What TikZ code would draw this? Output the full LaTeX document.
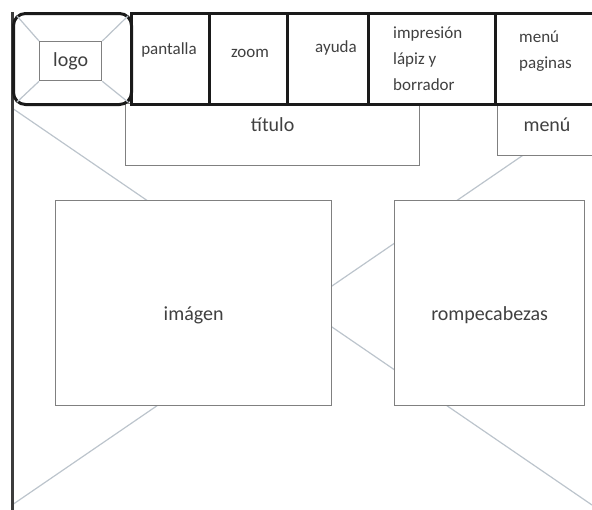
\documentclass[tikz,border=0pt]{standalone}
\usepackage{fontspec}
\setmainfont{Carlito}
\usetikzlibrary{calc}
\definecolor{ink}{HTML}{1A1A1A}
\definecolor{framegray}{HTML}{3C3C3C}
\definecolor{boxgray}{HTML}{808080}
\definecolor{diaggray}{HTML}{BCC4CC}
\definecolor{txt}{HTML}{404040}
\begin{document}
\begin{tikzpicture}[x=1pt,y=-1pt,
  bar/.style={draw=ink, line width=3pt},
  cell/.style={draw=ink, line width=3pt, rectangle, inner sep=0pt, anchor=north west, minimum height=91pt},
  box/.style={draw=boxgray, line width=1.3pt, fill=white, rectangle, inner sep=0pt, anchor=north west},
  diag/.style={draw=diaggray, line width=1.2pt},
  lbl/.style={text=txt, font=\fontsize{20}{24}\selectfont, inner sep=0pt},
  small/.style={text=txt, font=\fontsize{17}{26}\selectfont, inner sep=0pt, align=left}]
\useasboundingbox (0,0) rectangle (592,509);
% background X
\coordinate (xtl) at (12,108);
\coordinate (xbr) at (592,505);
\coordinate (xbl) at (12,505);
\coordinate (xtr) at (592,108);
\draw[diag] (xtl) -- (xbr);
\draw[diag] (xbl) -- (xtr);
% left frame
\coordinate (ftop) at (12,12);
\coordinate (fbot) at (12,512);
\draw[draw=framegray, line width=3pt] (ftop) -- (fbot);
% boxes
\node[box, minimum width=294pt, minimum height=62pt] (titulo) at (125,103) {};
\node[box, minimum width=110pt, minimum height=52pt] (menu) at (497,103) {};
\node[box, minimum width=276pt, minimum height=205pt] (imagen) at (55,200) {};
\node[box, minimum width=190pt, minimum height=205pt] (rompe) at (394,200) {};
\node[lbl] (tituloT) at ($(titulo.north)+(0,22)$) {título};
\node[lbl] (menuT) at (547,125) {menú};
\node[lbl] (imagenT) at ($(imagen.center)+(0,12)$) {imágen};
\node[lbl] (rompeT) at ($(rompe.center)+(0,12)$) {rompecabezas};
% top bar cells
\node[cell, minimum width=78pt] (pantalla) at (130,12) {};
\node[cell, minimum width=78pt] (zoom) at (208,12) {};
\node[cell, minimum width=81pt] (ayuda) at (286,12) {};
\node[cell, minimum width=127pt] (impresion) at (367,12) {};
\node[cell, minimum width=110pt] (menupag) at (494,12) {};
\node[small] (pantallaT) at (169,50) {pantalla};
\node[small] (zoomT) at (250,53) {zoom};
\node[small] (ayudaT) at (336,48) {ayuda};
\node[small, anchor=west] (impresionT) at (393,59) {impresión\\lápiz y\\borrador};
\node[small, anchor=west] (menupagT) at (519,51) {menú\\paginas};
% logo
\node[draw=ink, line width=3pt, rounded corners=12pt, fill=white, rectangle, inner sep=0pt,
      anchor=north west, minimum width=118pt, minimum height=91pt] (logobox) at (12,12) {};
\node[draw=boxgray, line width=1.3pt, rectangle, inner sep=0pt, anchor=north west,
      minimum width=62pt, minimum height=39pt] (logoin) at (39,41) {};
\node[lbl] (logoT) at (logoin.center) {logo};
\draw[diag] ($(logobox.north west)+(5,4)$) -- (logoin.north west);
\draw[diag] ($(logobox.north east)+(-5,4)$) -- (logoin.north east);
\draw[diag] ($(logobox.south west)+(5,-4)$) -- (logoin.south west);
\draw[diag] ($(logobox.south east)+(-5,-4)$) -- (logoin.south east);
\end{tikzpicture}
\end{document}
